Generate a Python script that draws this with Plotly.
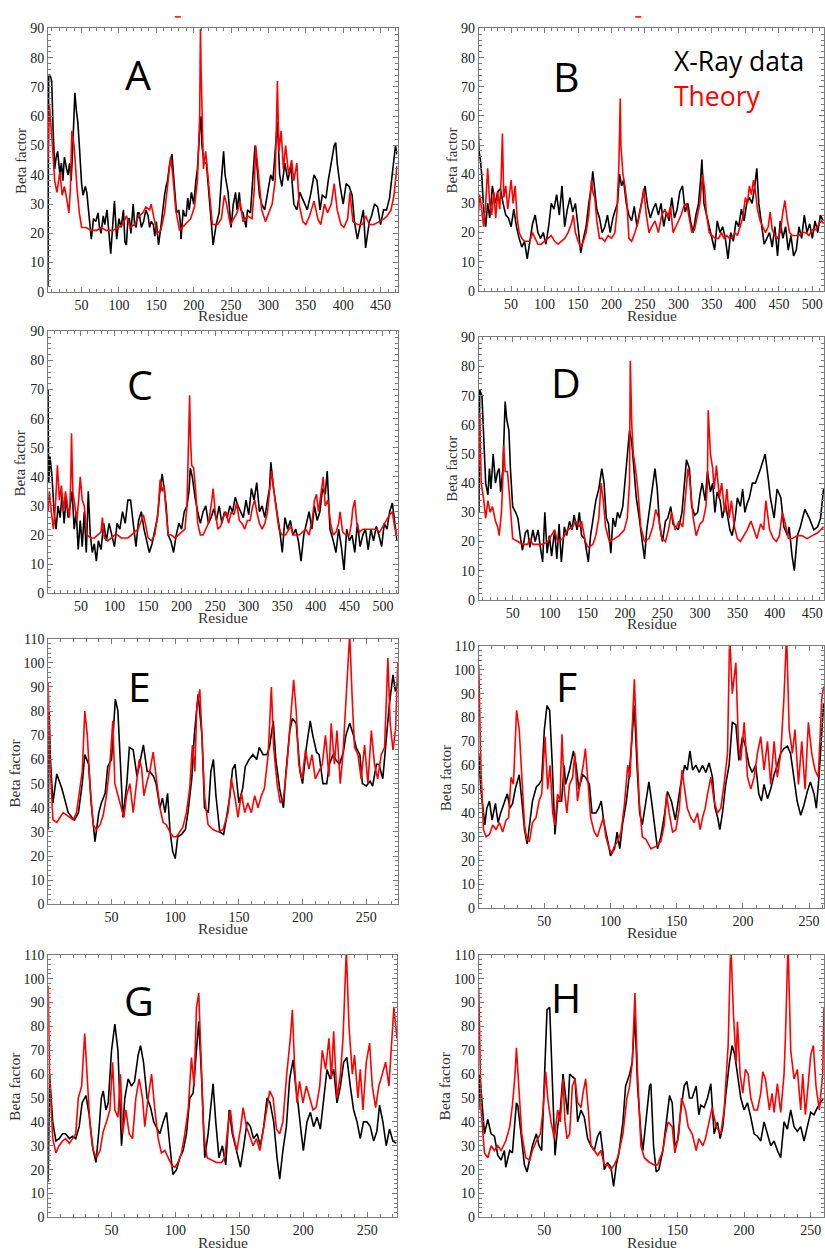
import plotly.graph_objects as go

# ---------------- data: (residue, beta factor) ----------------
A_xray = [(5,2),(6,74),(8,74),(10,72),(12,55),(14,42),(16,46),(18,48),(21,40),(23,44),(25,38),(27,46),(30,42),(32,40),(34,44),(36,38),(38,48),(40,62),(41,68),(43,62),(45,58),(47,50),(50,37),(52,33),(55,36),(57,34),(60,27),(63,18),(66,25),(69,24),(72,27),(74,22),(76,20),(79,26),(81,23),(84,28),(86,22),(89,13),(92,24),(94,31),(97,18),(100,25),(103,22),(106,28),(108,17),(110,16),(112,25),(114,25),(116,20),(119,30),(121,23),(123,22),(125,27),(127,27),(130,22),(133,24),(136,28),(139,26),(141,22),(143,24),(146,23),(148,19),(150,24),(153,16),(156,22),(159,30),(161,33),(163,36),(165,38),(168,44),(171,47),(173,40),(175,32),(177,27),(180,28),(182,24),(183,18),(186,28),(188,26),(190,26),(192,32),(194,28),(197,34),(200,30),(203,38),(205,42),(208,55),(210,60),(211,50),(214,44),(217,44),(220,35),(223,28),(226,16),(230,23),(234,27),(237,38),(240,48),(242,40),(246,34),(248,28),(250,22),(253,30),(256,34),(258,28),(261,34),(263,28),(266,27),(270,22),(272,28),(276,27),(280,42),(282,50),(284,45),(288,33),(291,30),(295,28),(299,34),(303,40),(306,38),(308,44),(312,58),(315,40),(318,36),(322,44),(326,38),(330,43),(334,30),(338,28),(342,34),(347,31),(352,28),(357,34),(361,40),(365,38),(369,28),(372,33),(377,32),(380,38),(384,44),(388,50),(390,51),(392,44),(396,36),(400,30),(404,37),(408,36),(412,33),(415,24),(419,18),(424,25),(427,28),(430,15),(435,24),(438,26),(442,30),(446,29),(450,23),(454,28),(458,28),(462,32),(464,37),(466,40),(470,50),(472,47)]
A_theory = [(5,45),(7,64),(11,50),(14,38),(17,34),(21,41),(24,33),(27,36),(30,32),(33,27),(35,35),(37,55),(40,50),(42,42),(44,35),(47,27),(50,22),(56,22),(63,21),(70,21),(76,22),(83,21),(92,21),(99,22),(105,23),(110,26),(115,22),(121,23),(127,26),(132,27),(136,29),(141,28),(143,30),(147,25),(151,20),(156,21),(161,27),(165,36),(169,46),(172,40),(176,28),(181,21),(188,23),(192,24),(196,25),(201,29),(205,38),(208,60),(209,90),(210,75),(213,42),(216,48),(219,40),(222,30),(225,23),(232,23),(237,25),(241,33),(244,30),(249,23),(253,25),(258,27),(262,31),(266,24),(272,26),(278,25),(281,35),(283,50),(286,42),(291,28),(296,24),(300,27),(305,30),(309,38),(312,72),(314,48),(317,55),(320,42),(323,50),(327,40),(331,45),(334,38),(338,44),(341,30),(346,24),(350,23),(355,26),(361,31),(366,25),(370,23),(375,30),(379,27),(384,30),(388,37),(392,28),(397,23),(401,22),(406,25),(409,34),(413,24),(419,23),(426,23),(430,26),(435,23),(441,23),(448,24),(455,25),(459,26),(464,28),(468,33),(472,43)]

B_xray = [(1,55),(2,48),(4,45),(6,40),(9,28),(12,22),(15,30),(18,25),(22,36),(26,30),(30,34),(34,35),(38,30),(42,26),(46,25),(50,22),(54,28),(58,22),(62,18),(66,15),(70,17),(74,11),(78,17),(82,23),(86,26),(90,20),(94,18),(98,20),(102,16),(106,22),(110,30),(114,28),(118,33),(122,26),(126,36),(130,22),(134,28),(138,32),(142,27),(146,30),(150,22),(154,13),(158,18),(162,22),(166,30),(170,36),(172,41),(175,35),(178,28),(182,25),(186,20),(190,22),(194,26),(198,20),(202,25),(206,28),(209,30),(212,40),(215,36),(218,38),(222,30),(226,26),(230,24),(234,29),(238,22),(242,27),(246,32),(250,36),(254,29),(258,25),(262,28),(266,30),(270,26),(274,30),(278,22),(282,27),(286,24),(290,32),(294,25),(298,28),(302,34),(306,36),(310,27),(314,30),(318,24),(322,20),(326,26),(330,30),(333,38),(335,45),(338,30),(342,26),(346,22),(350,17),(354,14),(358,24),(362,20),(366,22),(370,18),(374,11),(378,20),(382,17),(386,24),(390,22),(394,28),(398,24),(402,30),(406,32),(410,30),(414,36),(417,42),(420,30),(424,23),(428,16),(432,18),(436,20),(440,15),(444,22),(448,12),(452,24),(456,18),(460,22),(464,14),(468,19),(472,12),(476,14),(480,22),(484,18),(488,26),(492,20),(496,23),(500,18),(504,24),(508,20),(512,26),(516,24)]
B_theory = [(1,26),(3,33),(6,28),(9,22),(12,30),(15,42),(18,30),(21,26),(24,34),(27,25),(30,34),(33,28),(35,38),(37,54),(39,32),(42,36),(45,28),(48,33),(50,38),(53,30),(56,36),(59,25),(62,20),(66,18),(70,17),(74,17),(78,17),(82,20),(86,18),(90,16),(95,16),(100,17),(105,18),(110,19),(115,17),(120,16),(125,17),(130,18),(135,20),(140,23),(143,26),(146,20),(150,17),(154,15),(158,17),(162,20),(166,26),(170,38),(172,34),(175,32),(178,24),(182,18),(186,18),(190,17),(195,19),(200,18),(205,20),(208,27),(211,43),(213,66),(214,50),(217,40),(220,36),(223,30),(226,18),(230,17),(235,20),(240,24),(245,30),(248,35),(252,26),(256,20),(260,22),(265,24),(270,20),(275,26),(280,28),(284,25),(288,29),(292,20),(296,22),(300,24),(304,26),(308,29),(312,30),(316,25),(320,20),(324,21),(328,25),(332,30),(336,40),(339,35),(342,26),(346,20),(350,19),(355,18),(360,18),(364,20),(368,18),(372,19),(376,18),(380,18),(384,20),(388,19),(392,22),(396,25),(400,32),(403,30),(406,36),(409,33),(412,38),(415,34),(418,28),(422,24),(426,22),(430,20),(434,22),(437,27),(440,21),(444,19),(448,18),(452,20),(456,27),(459,31),(462,25),(466,20),(470,19),(475,19),(480,19),(485,20),(490,20),(495,19),(500,21),(505,21),(510,23),(514,24),(517,23)]

C_xray = [(1,70),(2,38),(4,47),(7,40),(10,28),(13,22),(16,30),(19,26),(22,34),(25,24),(28,33),(31,26),(34,30),(37,35),(40,22),(43,28),(46,15),(49,25),(52,16),(55,28),(58,14),(61,35),(64,20),(67,14),(70,17),(73,11),(76,18),(80,15),(84,24),(88,18),(92,24),(96,20),(100,16),(104,24),(108,22),(112,28),(116,24),(120,32),(124,32),(128,24),(132,16),(136,25),(140,28),(144,22),(148,18),(152,14),(156,17),(160,22),(164,26),(168,36),(171,41),(174,36),(177,30),(180,20),(184,18),(188,14),(192,20),(196,24),(200,22),(204,28),(208,30),(211,35),(213,43),(216,40),(220,33),(224,28),(228,24),(232,28),(236,30),(240,24),(244,26),(248,29),(252,25),(256,30),(260,24),(264,28),(268,26),(272,30),(276,28),(280,33),(284,30),(288,28),(292,26),(296,32),(300,27),(304,36),(308,32),(312,38),(316,28),(320,30),(324,26),(328,32),(331,36),(333,45),(337,36),(342,28),(346,22),(350,14),(354,26),(358,22),(362,25),(366,20),(370,22),(374,18),(378,11),(382,20),(386,24),(390,28),(394,22),(398,30),(402,25),(406,28),(410,36),(414,34),(417,42),(421,22),(426,18),(430,14),(434,22),(438,16),(442,8),(446,22),(450,18),(454,20),(458,14),(462,24),(466,16),(470,20),(474,22),(478,15),(482,22),(486,18),(490,23),(494,20),(498,16),(502,24),(506,22),(510,28),(514,31),(518,24),(521,18)]
C_theory = [(1,28),(3,35),(6,28),(9,22),(12,30),(15,44),(18,32),(21,37),(24,28),(27,35),(30,30),(33,26),(35,40),(36,55),(38,35),(41,30),(44,25),(47,33),(49,40),(52,32),(55,30),(59,20),(65,19),(70,19),(75,20),(80,21),(82,26),(85,19),(90,18),(95,19),(100,20),(105,20),(110,19),(115,19),(120,19),(125,20),(130,21),(135,22),(140,25),(143,27),(146,24),(150,19),(155,18),(160,20),(165,28),(168,39),(171,35),(174,37),(177,28),(180,20),(185,20),(190,19),(195,20),(200,21),(205,22),(208,30),(210,45),(212,68),(213,55),(215,44),(218,43),(221,35),(224,24),(228,20),(232,20),(236,22),(240,24),(244,30),(247,36),(250,28),(254,22),(258,23),(262,26),(266,28),(270,24),(274,28),(278,27),(282,31),(286,25),(290,24),(294,22),(298,25),(302,25),(306,30),(309,32),(312,28),(316,24),(320,22),(324,24),(328,28),(331,34),(334,42),(337,36),(341,28),(345,22),(350,20),(355,20),(360,22),(363,23),(366,20),(370,20),(375,20),(380,21),(385,22),(390,20),(395,26),(398,32),(401,34),(404,28),(408,36),(411,40),(414,30),(418,32),(422,24),(426,20),(430,21),(434,24),(436,28),(440,21),(445,20),(450,20),(453,24),(455,29),(458,32),(461,24),(465,21),(470,22),(475,22),(480,22),(485,22),(490,22),(495,21),(500,23),(505,25),(510,27),(514,28),(518,22),(521,20)]

D_xray = [(5,30),(6,72),(9,70),(11,60),(14,40),(17,36),(19,45),(21,38),(24,50),(27,40),(30,44),(32,45),(34,37),(37,45),(39,62),(40,68),(42,62),(45,58),(47,45),(50,32),(54,30),(57,28),(60,22),(63,17),(67,23),(70,24),(73,18),(77,24),(80,20),(84,24),(87,18),(90,13),(93,30),(96,16),(99,22),(102,15),(106,24),(109,14),(112,26),(115,13),(119,25),(122,22),(126,27),(129,24),(132,29),(136,24),(139,30),(142,22),(146,21),(148,17),(151,13),(154,22),(158,28),(161,34),(165,38),(169,45),(172,40),(175,28),(178,26),(181,16),(184,28),(187,25),(190,30),(193,28),(197,32),(200,40),(203,50),(206,58),(209,54),(212,45),(215,35),(219,28),(222,22),(226,14),(229,24),(232,30),(237,40),(240,45),(243,38),(246,26),(250,20),(254,27),(257,28),(261,32),(264,26),(268,25),(271,24),(276,30),(279,40),(282,48),(286,45),(289,32),(293,29),(297,30),(300,36),(303,40),(307,34),(310,44),(314,37),(317,40),(320,30),(323,37),(327,34),(330,28),(334,33),(337,28),(340,24),(343,22),(347,28),(350,35),(354,32),(357,38),(360,30),(363,33),(366,35),(370,40),(374,40),(381,45),(387,50),(391,42),(394,35),(399,28),(403,38),(408,35),(412,25),(417,22),(419,25),(423,15),(426,10),(430,22),(434,25),(440,31),(446,28),(452,24),(457,25),(461,28),(465,38)]
D_theory = [(5,45),(6,64),(8,40),(11,35),(14,28),(17,34),(20,30),(23,32),(27,27),(30,25),(32,22),(35,30),(37,42),(38,53),(40,44),(43,44),(46,35),(48,27),(50,21),(57,20),(63,19),(70,19),(73,21),(77,19),(83,19),(90,19),(97,20),(102,22),(106,24),(110,20),(117,21),(123,24),(130,25),(134,27),(139,25),(142,27),(147,20),(151,18),(157,19),(161,22),(165,28),(168,40),(171,34),(174,25),(179,20),(186,21),(192,22),(199,24),(203,28),(206,40),(207,82),(209,60),(211,50),(214,45),(217,38),(221,25),(226,20),(232,21),(237,25),(241,31),(245,28),(249,21),(254,20),(258,24),(262,30),(267,24),(272,27),(277,25),(281,38),(284,45),(286,42),(291,28),(295,22),(300,26),(304,27),(308,32),(310,40),(311,65),(314,50),(317,45),(319,38),(322,46),(326,35),(329,40),(333,30),(336,38),(339,28),(342,34),(346,25),(350,21),(354,20),(359,22),(363,24),(368,27),(372,24),(376,21),(381,26),(385,24),(388,34),(393,24),(398,21),(402,20),(406,22),(410,30),(414,26),(418,21),(423,21),(430,22),(436,22),(443,21),(450,22),(457,23),(465,25)]

E_xray = [(0.3,31),(1,80),(2,60),(4,42),(7,54),(11,48),(13,44),(16,38),(19,36),(21,35),(24,38),(27,50),(29,62),(32,58),(34,42),(37,26),(40,38),(42,42),(45,46),(47,57),(50,60),(53,85),(55,80),(57,55),(59,36),(62,50),(64,65),(67,64),(70,53),(72,58),(75,66),(78,55),(80,55),(83,53),(85,50),(88,40),(90,44),(92,38),(94,46),(96,30),(98,22),(100,19),(102,28),(105,29),(108,31),(110,38),(113,52),(115,70),(118,87),(121,70),(123,40),(126,38),(128,55),(130,60),(132,45),(135,30),(138,29),(140,35),(143,45),(145,56),(147,58),(150,42),(153,48),(155,57),(158,60),(161,62),(164,60),(166,65),(169,62),(172,62),(174,65),(177,76),(179,60),(182,48),(185,40),(187,55),(190,72),(192,77),(195,75),(198,55),(200,50),(203,65),(206,76),(208,70),(211,63),(213,62),(216,50),(219,50),(221,58),(224,62),(226,60),(229,58),(232,63),(234,70),(237,75),(240,70),(242,65),(245,62),(247,50),(250,49),(253,51),(255,49),(258,58),(260,58),(263,52),(266,70),(268,82),(271,95),(273,88),(275,92)]
E_theory = [(0.3,92),(1.5,60),(4,35),(7,34),(9.5,36),(12,38),(14.7,37),(17,36),(20,35),(22.5,38),(25,48),(27,55),(29,80),(31,70),(33,50),(35.6,33),(38,31),(41,33),(43.5,37),(46,45),(48.7,58),(51,76),(52.6,50),(55,45),(57.8,40),(59.7,36),(61.8,45),(64.4,50),(67,38),(69.6,50),(71.7,60),(73.5,57),(75.4,45),(77.5,50),(80,55),(82.7,63),(85,52),(88,40),(90.5,34),(93,33),(95.8,30),(98.4,28),(101,28),(103.6,30),(106,32),(108.8,38),(111.4,48),(113.5,66),(115.4,55),(117,82),(119.3,89),(121,70),(123,45),(125.8,33),(129.7,31),(133.7,30),(137.6,31),(141.5,38),(144,52),(146.7,45),(149.3,36),(152,46),(154.6,38),(157,42),(159.8,38),(162.4,45),(165,40),(167.6,45),(170,48),(173,62),(175.5,90),(177.3,65),(180,50),(182.5,42),(185,44),(187.8,58),(190.4,75),(193,93),(195,80),(197,58),(199.7,52),(202.3,64),(205,56),(207.4,62),(210,52),(212.7,55),(215.5,58),(218,70),(220.7,53),(222.5,75),(225,58),(227,72),(229.6,50),(231.7,62),(234.3,85),(237,112),(239,85),(240.8,65),(243.5,62),(246,52),(248.7,66),(251.3,50),(254,72),(256.5,58),(259,52),(261.8,62),(264.4,65),(267,102),(268.8,75),(271,64),(273,72),(274.8,100)]

F_xray = [(0.4,65),(2,50),(5,35),(6.5,42),(8.5,45),(10.5,37),(13,44),(15,36),(17,40),(20,45),(22,48),(24,42),(26,44),(28,50),(31,56),(33,45),(35,33),(37,27),(39,37),(41,45),(44,51),(46,52),(48,54),(50,75),(52,85),(54,83),(56,60),(58,31),(60,45),(63,45),(65,60),(66,52),(69,58),(72,66),(74,60),(76,50),(79,56),(81,55),(84,52),(86,40),(89,40),(91,42),(93,45),(95,36),(98,28),(100,22),(103,25),(105,32),(107,25),(109,35),(112,45),(114,55),(116,70),(118,85),(120,60),(122,40),(124,35),(127,45),(129,53),(131,45),(134,30),(135.5,25),(138,30),(141,40),(143,49),(146,45),(149,37),(151,45),(153,52),(156,60),(158,58),(160,66),(162,58),(164.5,60),(167,57),(169.5,60),(172,57),(174.5,61),(177,55),(179,42),(181,38),(182.6,33),(184.6,40),(187,52),(189.6,60),(192,78),(194.7,77),(197,62),(199.7,72),(202,68),(204.7,60),(207,57),(209.7,60),(212,48),(214,45),(216,52),(218.6,46),(221,50),(223.6,56),(226,60),(228.6,65),(231,67),(233.6,68),(236,65),(238.7,55),(241,45),(243.7,39),(246,43),(248.7,49),(251,53),(253.8,48),(255.5,42),(257.5,55),(259.6,75),(261,86)]
F_theory = [(0.4,102),(2,60),(4,33),(6,30),(8.5,31),(11,35),(13.5,33),(16,36),(18.5,32),(21,37),(23,38),(24.8,55),(26.6,52),(28,70),(29,83),(31,75),(33,55),(35,35),(36.7,29),(38.7,28),(41,36),(43.7,38),(46,45),(48,48),(50.5,72),(52.5,50),(54.3,60),(56.3,40),(58,35),(60,48),(61.8,45),(63.3,73),(65,50),(67,40),(69,52),(71.4,55),(73,65),(75,45),(77.7,55),(79.4,60),(81,67),(82.7,55),(85,38),(87.7,32),(90,30),(92.8,35),(94.5,38),(96.5,30),(99,25),(101,23),(102.8,26),(105.3,28),(107.9,32),(110.4,43),(113,60),(114.7,55),(116.7,80),(118,96),(119.7,70),(121.7,45),(124,30),(126.7,29),(130.5,25),(134.3,26),(138,28),(140.6,35),(142.3,48),(144.3,40),(146.9,32),(149.4,33),(152,42),(154,58),(156,50),(158,42),(160.7,38),(163.2,36),(165.7,40),(167.7,33),(169.5,38),(171.5,42),(173.3,48),(175.8,55),(178.3,45),(180.8,40),(183.3,42),(185.8,52),(188.4,65),(190,115),(192,90),(194.7,103),(196.7,68),(198.4,62),(201,78),(203.5,55),(206,50),(208.5,55),(211,65),(213.5,72),(216,58),(218.6,70),(221,52),(223.6,70),(226,55),(228.6,65),(231,88),(233,115),(235,75),(237.4,65),(239.4,75),(242,52),(244.5,70),(247,50),(249.5,78),(252,65),(254.5,58),(257,55),(259.6,88),(261,93)]

G_xray = [(0.5,15),(1.5,60),(4,40),(6.5,32),(9,33),(11.7,35),(14,35),(17,33),(19.5,34),(22,33),(24.7,38),(27,48),(30,51),(32.5,43),(35,30),(37.8,23),(40.4,38),(42,50),(43.5,53),(45.6,45),(47.4,48),(50,70),(52.6,81),(55,70),(57.8,30),(60.4,50),(63,58),(65.6,55),(68,57),(70.8,68),(72.7,72),(75,65),(77.8,50),(80.5,46),(83,40),(85,38),(87.8,35),(90.4,40),(93,44),(95.6,30),(98,18),(100.8,20),(103.4,25),(106,28),(108.6,35),(111.2,50),(113.8,52),(116.4,70),(118.2,82),(120.3,60),(122.9,25),(125.5,35),(128,50),(129.4,56),(131.5,40),(134,25),(136.7,30),(139.3,22),(142,45),(144.5,35),(147.7,28),(150.8,21),(153.4,30),(156,40),(158.6,38),(161,33),(163.8,35),(166.4,30),(169,38),(171.6,50),(174,48),(176.8,40),(179.4,25),(181.5,16),(184,28),(186.7,38),(189.3,58),(192,66),(194,55),(195.8,48),(198.4,35),(200,28),(202.8,40),(205.5,44),(208,38),(210.7,42),(213.3,37),(215.9,50),(218.5,62),(221,58),(223.7,62),(226.3,48),(229,55),(231.5,65),(234,67),(236.7,55),(239.3,45),(242,40),(244.5,33),(247,40),(249.7,40),(252.3,38),(255,32),(257.5,36),(259.6,47),(262.2,40),(264.8,30),(267.4,37),(270,32),(272.7,31)]
G_theory = [(0.5,97),(1.5,60),(4,33),(6.5,27),(9,30),(11.7,32),(14,33),(17,31),(19.5,33),(22,35),(24,50),(26.6,55),(29,77),(31,60),(33,40),(35.7,28),(38.3,25),(41,28),(43.5,36),(46,40),(48.7,45),(50.8,65),(52.6,45),(55,42),(57,60),(58.6,35),(61.2,45),(63.8,35),(66.4,33),(69,50),(71.6,58),(74.2,50),(76,38),(78.6,50),(81.3,60),(83.9,45),(86.5,33),(89,27),(91.7,28),(94.3,25),(96.9,22),(99.5,21),(102,23),(104.7,27),(107.3,35),(109.9,45),(112.5,67),(114.6,55),(116.4,88),(118.2,94),(119.8,70),(122.1,35),(124.7,25),(128,24),(132,23),(136,23),(138.5,25),(141,38),(143,45),(145,35),(148,28),(150.8,37),(152.9,46),(155.5,38),(158,34),(160.7,30),(163.3,33),(165.9,28),(168.5,36),(171,45),(173.7,53),(176.3,50),(179,37),(181.5,35),(184,40),(187,60),(189.8,75),(191.4,87),(193,65),(195,48),(197,57),(199.7,48),(202.3,55),(205,50),(207.5,45),(210,46),(212.8,55),(214.8,70),(217.4,62),(220,75),(221.9,58),(223.7,78),(226.3,50),(229,60),(231,75),(233.6,112),(235.7,80),(238.3,60),(240,68),(242.7,50),(244.5,62),(246.6,45),(249.2,65),(251.8,73),(253.9,55),(256.5,46),(259,55),(261.7,60),(264.3,65),(266.9,55),(268.8,70),(270.8,88),(273.2,75)]

H_xray = [(0.7,45),(1.5,60),(5,35),(7.5,41),(10,35),(12.5,34),(15,26),(17.5,24),(20,28),(21,21),(24,28),(26,27),(29,48),(30,47),(32.5,35),(35,22),(37,19),(39,25),(41,30),(44,35),(46,30),(48,28),(50,55),(52,87),(54,88),(56,60),(58,26),(60,38),(62,45),(64,60),(66,50),(67.5,43),(69,60),(71,59),(73,58),(75,40),(77.5,45),(80,42),(82.5,33),(85,30),(87.5,28),(90,34),(92,36),(94,27),(95,20),(97.5,23),(100,21),(102,13),(104,22),(106,27),(109,40),(111,55),(114,60),(116,65),(118,85),(120,55),(122.5,35),(124,28),(126,40),(129,55),(130,56),(132,30),(134,19),(136,20),(139,28),(141,38),(144,51),(146,48),(148,30),(150,32),(152.5,45),(155,55),(157,57),(159,50),(161,50),(164,55),(166,43),(167.5,47),(170,46),(172.5,50),(175,56),(177.5,35),(180,40),(182,33),(184,38),(186,50),(189,65),(191,72),(193,68),(195,60),(197.5,50),(200,45),(202.5,48),(205,42),(207.5,35),(210,34),(212.5,32),(215,40),(217.5,35),(220,30),(222.5,32),(225,28),(227.5,25),(230,40),(232.5,37),(235,45),(237.5,38),(240,36),(242.5,38),(245,32),(247.5,38),(250,44),(252.5,43),(255,46),(257.5,48),(259.5,50)]
H_theory = [(0.7,96),(2.5,45),(5,27),(7.5,25),(10,30),(12.5,28),(15,30),(17.5,28),(21,32),(24,38),(26,47),(28,60),(29,71),(31,55),(33,35),(36,25),(39,24),(41,28),(44,32),(47,35),(49,45),(51,61),(52.5,50),(55,40),(57.5,33),(60,45),(62,40),(64,58),(65.5,40),(67,33),(69,35),(71,55),(73,58),(75,48),(77.5,46),(79,52),(81,58),(83,45),(85,30),(87.5,28),(90,26),(92.5,28),(95,22),(97.5,22),(100,20),(102.5,22),(105,25),(109,35),(112,50),(114,55),(116,65),(118,94),(120,60),(122.5,30),(125,25),(129,23),(132.5,22),(135,22),(139,28),(141,35),(143,40),(146,38),(148,27),(151,35),(153,50),(156,45),(158,38),(161,35),(164,28),(166,33),(169,30),(171,33),(174,40),(176,46),(179,38),(182.5,35),(185,45),(188,72),(190,115),(192,85),(194,65),(195,82),(197,60),(199,52),(201,62),(203,60),(205,50),(207.5,45),(210,45),(212.5,52),(214,61),(216,58),(219,45),(221,52),(222.5,44),(225,56),(227.5,44),(230,60),(231,75),(233,115),(235,70),(237.5,58),(240,62),(242.5,45),(244,60),(246,43),(248,55),(250,68),(252,72),(254,55),(256.5,45),(259,60),(260,88)]

panel_letters = ["A", "B", "C", "D", "E", "F", "G", "H"]
series_xray = [A_xray, B_xray, C_xray, D_xray, E_xray, F_xray, G_xray, H_xray]
series_theory = [A_theory, B_theory, C_theory, D_theory, E_theory, F_theory, G_theory, H_theory]
legend_labels = ["X-Ray data", "Theory"]
x_title = "Residue"
y_title = "Beta factor"

# ---------------- layout (pixel geometry of the 825x1255 page) ----------------
W, H = 825, 1255
boxes = [(48, 398, 21.7, 288.3), (479.3, 825, 21.7, 287.3),
         (48, 398, 328.3, 593.3), (479.3, 825, 334.3, 600),
         (48.3, 398.3, 639.3, 908.3), (479.3, 825, 646.7, 912.3),
         (48.3, 397.7, 959.3, 1225), (479.3, 825, 959.3, 1225)]
xranges = [(5, 472.7), (1.6, 517.4), (0.9, 521.7), (4.7, 465.6),
           (0.3, 274.8), (0.4, 261.3), (0.5, 273.4), (0.7, 260)]
ymaxes = [90, 90, 90, 90, 110, 110, 110, 110]
letter_pos = [(138, 68), (567, 70), (140, 382), (567, 380),
              (140, 687), (567, 687), (139, 1005), (567, 1002)]
ytitle_pos = [(21, 156, 15), (453, 155, 15), (21, 462, 15), (453, 467, 15),
              (15, 775, 15.5), (446, 780, 15), (15, 1092, 15.5), (445, 1092, 15.5)]
xtitle_pos = [(223, 312), (653, 312), (223, 618), (653, 624),
              (223, 933), (653, 937), (223, 1250), (653, 1250)]

def px(x):
    return x / W

def py(y):
    return 1 - y / H

AX = "#7a7a7a"
SERIF = "Liberation Serif, Times New Roman, serif"
SANS = "Open Sans, Liberation Sans, sans-serif"

fig = go.Figure()
layout = dict(width=W, height=H, margin=dict(l=0, r=0, t=0, b=0),
              paper_bgcolor="white", plot_bgcolor="white", showlegend=False)
annotations = []

for i in range(8):
    n = "" if i == 0 else str(i + 1)
    xa, ya = "x" + n, "y" + n
    for data, color in ((series_xray[i], "#000000"), (series_theory[i], "#ff0000")):
        fig.add_trace(go.Scatter(x=[p[0] for p in data], y=[p[1] for p in data],
                                 mode="lines", line=dict(color=color, width=1.6),
                                 xaxis=xa, yaxis=ya, hoverinfo="skip"))
    l, r, t, b = boxes[i]
    common = dict(showline=True, linecolor=AX, linewidth=1, mirror="allticks",
                  ticks="inside", ticklen=5, tickcolor=AX, tickwidth=1,
                  showgrid=False, zeroline=False,
                  tickfont=dict(family=SERIF, size=14, color="#222"))
    layout["xaxis" + n] = dict(domain=[px(l), px(r)], range=list(xranges[i]),
                               anchor=ya, tick0=0, dtick=50,
                               minor=dict(ticks="inside", dtick=10, ticklen=3,
                                          tickcolor=AX, showgrid=False),
                               **common)
    layout["yaxis" + n] = dict(domain=[py(b), py(t)], range=[0, ymaxes[i]],
                               anchor=xa, tick0=0, dtick=10,
                               minor=dict(ticks="inside", dtick=2, ticklen=3,
                                          tickcolor=AX, showgrid=False),
                               **common)
    lx, ly = letter_pos[i]
    annotations.append(dict(text=panel_letters[i], x=px(lx), y=py(ly), xref="paper", yref="paper",
                            showarrow=False, xanchor="center", yanchor="middle",
                            font=dict(family=SANS, size=41, color="black")))
    tx, ty, ts = ytitle_pos[i]
    annotations.append(dict(text=y_title, x=px(tx), y=py(ty), xref="paper", yref="paper",
                            showarrow=False, textangle=-90, xanchor="center", yanchor="middle",
                            font=dict(family=SERIF, size=ts, color="#333")))
    rx, ry = xtitle_pos[i]
    annotations.append(dict(text=x_title, x=px(rx), y=py(ry), xref="paper", yref="paper",
                            showarrow=False, xanchor="center", yanchor="middle",
                            font=dict(family=SERIF, size=15.5, color="#333")))

annotations.append(dict(text=legend_labels[0], x=px(673), y=py(55), xref="paper", yref="paper",
                        showarrow=False, xanchor="left", yanchor="middle",
                        font=dict(family=SANS, size=26.5, color="black")))
annotations.append(dict(text=legend_labels[1], x=px(673), y=py(90), xref="paper", yref="paper",
                        showarrow=False, xanchor="left", yanchor="middle",
                        font=dict(family=SANS, size=26.5, color="#ff0000")))
layout["annotations"] = annotations
layout["shapes"] = [
    dict(type="line", xref="paper", yref="paper", x0=px(175), x1=px(181), y0=py(10), y1=py(10),
         line=dict(color="#ff0000", width=1.5)),
    dict(type="line", xref="paper", yref="paper", x0=px(636), x1=px(642), y0=py(10), y1=py(10),
         line=dict(color="#ff0000", width=1.5)),
]
fig.update_layout(**layout)
fig.write_html("out.html", config={"displayModeBar": False},
               post_script="document.body.style.margin='0';")
